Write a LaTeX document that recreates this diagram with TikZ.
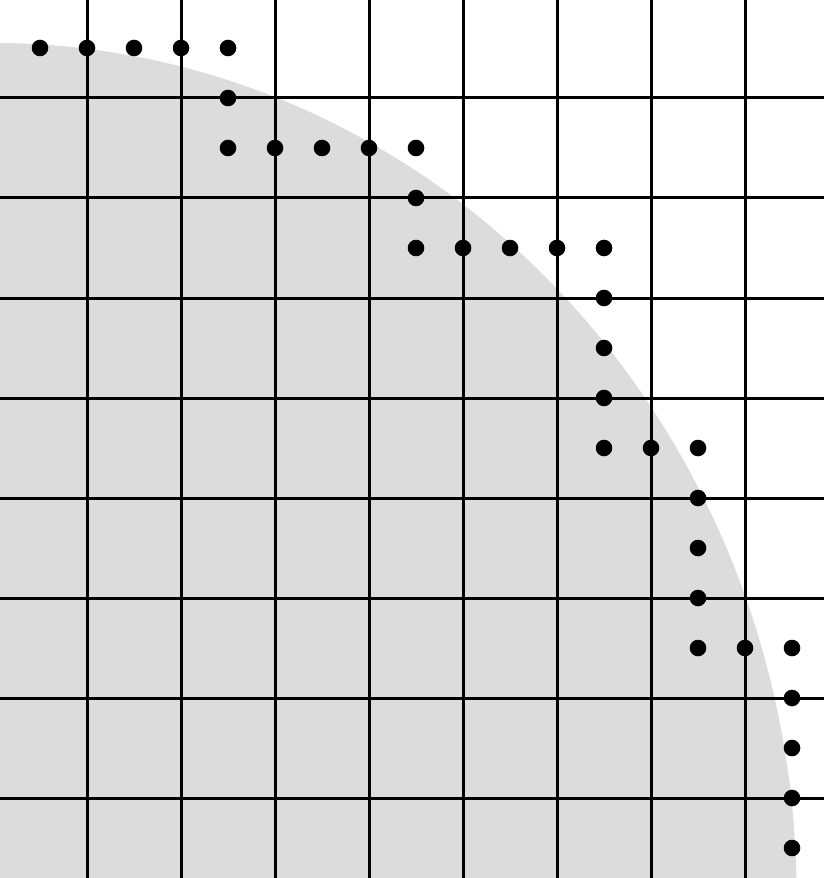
\documentclass[tikz,border=0pt]{standalone}
\definecolor{disk}{HTML}{DCDCDC}
\begin{document}
\begin{tikzpicture}[x=0.03cm,y=-0.03cm,
  gridline/.style={line width=0.09cm,black},
  dot/.style={fill=black}]
\useasboundingbox (0,0) rectangle (824,878);
\clip (0,0) rectangle (824,878);
% disk
\fill[disk] (-7,898) ellipse [x radius=803.7, y radius=855];
% grid
\foreach \i in {1,...,8} {
  \draw[gridline] ({94*\i-7},0) -- ({94*\i-7},878);
  \draw[gridline] (0,{898-100*\i}) -- (824,{898-100*\i});
}
% dots
\foreach \X/\Y in {0.5/8.5,1/8.5,1.5/8.5,2/8.5,2.5/8.5,2.5/8,2.5/7.5,3/7.5,3.5/7.5,4/7.5,4.5/7.5,
  4.5/7,4.5/6.5,5/6.5,5.5/6.5,6/6.5,6.5/6.5,6.5/6,6.5/5.5,6.5/5,6.5/4.5,7/4.5,7.5/4.5,
  7.5/4,7.5/3.5,7.5/3,7.5/2.5,8/2.5,8.5/2.5,8.5/2,8.5/1.5,8.5/1,8.5/0.5} {
  \fill[dot] ({94*\X-7},{898-100*\Y}) circle [radius=8.3];
}
\end{tikzpicture}
\end{document}
